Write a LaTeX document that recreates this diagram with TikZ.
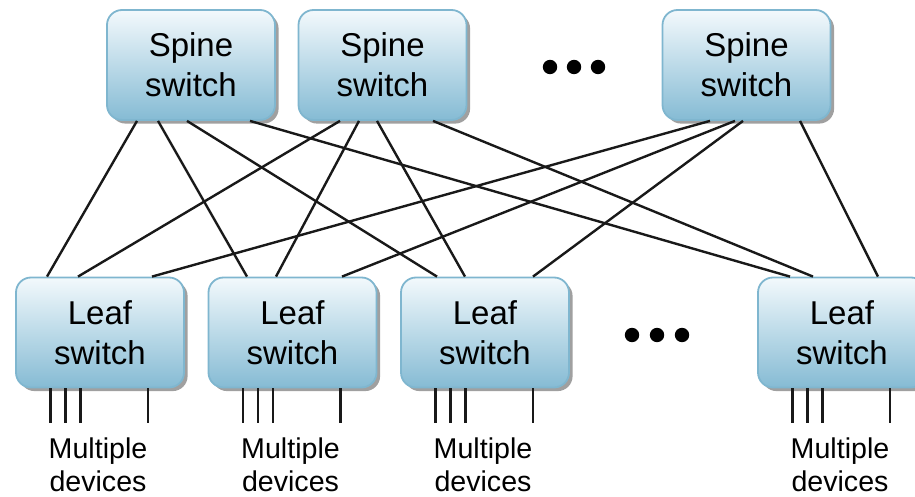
\documentclass[tikz,border=0pt]{standalone}
\usepackage{fontspec}
\setmainfont{Liberation Sans}
\usepackage{tikz}
\usepackage{xcolor}
\usetikzlibrary{positioning, shadows, calc}
\definecolor{swtop}{HTML}{F3F9FC}
\definecolor{swbot}{HTML}{85BBD4}
\definecolor{swedge}{HTML}{7FB6CF}
\tikzset{
    switch/.style={draw=swedge, line width=0.9pt, rounded corners=7.5pt,
        top color=swtop, bottom color=swbot, minimum width=84pt, minimum height=55pt,
        align=center, font=\fontsize{16.5}{20}\selectfont,
        drop shadow={shadow xshift=1.8pt, shadow yshift=-1.8pt, fill=black!50, opacity=0.75}},
    link/.style={line width=1.2pt, black!90},
    devtext/.style={align=center, inner sep=0pt, font=\fontsize{14.3}{16.5}\selectfont}
}

\begin{document}
\begin{tikzpicture}[x=0.5pt, y=-0.5pt]
                        \useasboundingbox (0, 0) rectangle (915, 497);
                        \node[switch] (s1) at (191, 65) {Spine\\switch};
                        \node[switch] (s2) at (382.5, 65) {Spine\\switch};
                        \node[switch] (s3) at (746.5, 65) {Spine\\switch};
                        \node[switch] (l1) at (100, 332.5) {Leaf\\switch};
                        \node[switch] (l2) at (292.5, 332.5) {Leaf\\switch};
                        \node[switch] (l3) at (485, 332.5) {Leaf\\switch};
                        \node[switch] (l4) at (842, 332.5) {Leaf\\switch};
                        \node[devtext, below=24.5pt of l1, xshift=-1pt] (m1) {Multiple\\devices};
                        \node[devtext, below=24.5pt of l2, xshift=-1pt] (m2) {Multiple\\devices};
                        \node[devtext, below=24.5pt of l3, xshift=-1pt] (m3) {Multiple\\devices};
                        \node[devtext, below=24.5pt of l4, xshift=-1pt] (m4) {Multiple\\devices};
                        % spine to leaf links
                        \draw[link]
                        ([xshift=-27pt]s1.south) edge ([xshift=-26.5pt]l1.north)
                        ([xshift=-16.5pt]s1.south) edge ([xshift=-22.75pt]l2.north)
                        ([xshift=-2pt]s1.south) edge ([xshift=-24pt]l3.north)
                        ([xshift=29.5pt]s1.south) edge ([xshift=-26pt]l4.north)
                        ([xshift=-21.25pt]s2.south) edge ([xshift=-11pt]l1.north)
                        ([xshift=-11.75pt]s2.south) edge ([xshift=-8.25pt]l2.north)
                        ([xshift=-2.75pt]s2.south) edge ([xshift=-10pt]l3.north)
                        ([xshift=25.25pt]s2.south) edge ([xshift=-14.5pt]l4.north)
                        ([xshift=-18.25pt]s3.south) edge ([xshift=26pt]l1.north)
                        ([xshift=-5.75pt]s3.south) edge ([xshift=24.75pt]l2.north)
                        ([xshift=-1.75pt]s3.south) edge ([xshift=24pt]l3.north)
                        ([xshift=26.75pt]s3.south) edge ([xshift=18pt]l4.north);
                        % device ports
                        \foreach \l in {l1, l2, l3, l4}
                            \foreach \d in {-24.75, -17.25, -9.75, 24}
                                \draw[link] ([xshift=\d pt]\l.south) -- ++(0, 35);
                        % ellipses
                        \foreach \x in {550, 574, 598}
                            \fill (\x, 67) circle (3.6pt);
                        \foreach \x in {632, 657, 682}
                            \fill (\x, 335) circle (3.6pt);
                    \end{tikzpicture}
\end{document}
